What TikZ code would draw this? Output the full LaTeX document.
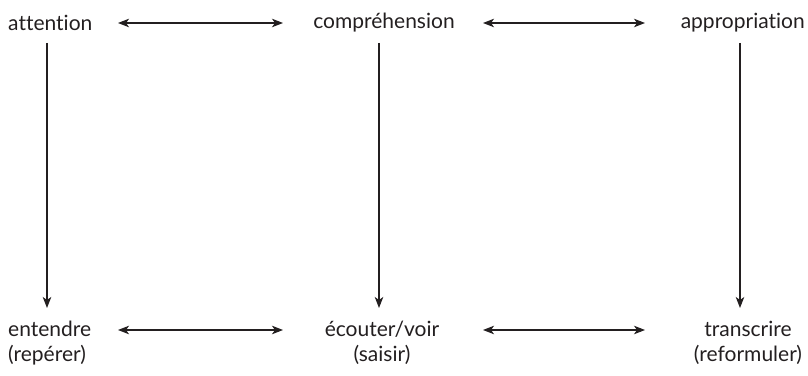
\documentclass[tikz,border=0pt]{standalone}
\usepackage{fontspec}
\setmainfont{Lato}[Ligatures={NoCommon,NoRare}]
\usetikzlibrary{arrows.meta}
\definecolor{ink}{HTML}{231F20}
\begin{document}
\begin{tikzpicture}[x=1pt,y=1pt,
  lbl/.style={inner sep=0pt,text=ink,font=\fontsize{21}{25}\selectfont,align=center},
  tip/.style={},
  arr/.style={draw=ink,line width=1.1pt,-{Stealth[length=11pt,width=8.5pt,inset=3pt]}},
  darr/.style={draw=ink,line width=1.1pt,{Stealth[length=11pt,width=8.5pt,inset=3pt]}-{Stealth[length=11pt,width=8.5pt,inset=3pt]}}]
\useasboundingbox (0,0) rectangle (808,375);
% top row
\node[lbl,anchor=west] (att) at (8,352) {attention};
\node[lbl] (comp) at (384,352) {compréhension};
\node[lbl,anchor=east] (appr) at (805,352) {appropriation};
% bottom row
\node[lbl,anchor=west,align=left] (ent) at (8,32) {entendre\\(repérer)};
\node[lbl] (ecou) at (382,32) {écouter/voir\\(saisir)};
\node[lbl] (trans) at (748,32) {transcrire\\(reformuler)};
% connector ends
\coordinate (t1a) at (118,352); \coordinate (t1b) at (283,352);
\coordinate (t2a) at (483,352); \coordinate (t2b) at (645,352);
\coordinate (b1a) at (118,45);  \coordinate (b1b) at (283,45);
\coordinate (b2a) at (483,45);  \coordinate (b2b) at (645,45);
\coordinate (v1a) at (47,332);  \coordinate (v1b) at (47,67);
\coordinate (v2a) at (379,332); \coordinate (v2b) at (379,67);
\coordinate (v3a) at (740,332); \coordinate (v3b) at (740,67);
\draw[darr] (t1a) -- (t1b);
\draw[darr] (t2a) -- (t2b);
\draw[darr] (b1a) -- (b1b);
\draw[darr] (b2a) -- (b2b);
\draw[arr] (v1a) -- (v1b);
\draw[arr] (v2a) -- (v2b);
\draw[arr] (v3a) -- (v3b);
\end{tikzpicture}
\end{document}
